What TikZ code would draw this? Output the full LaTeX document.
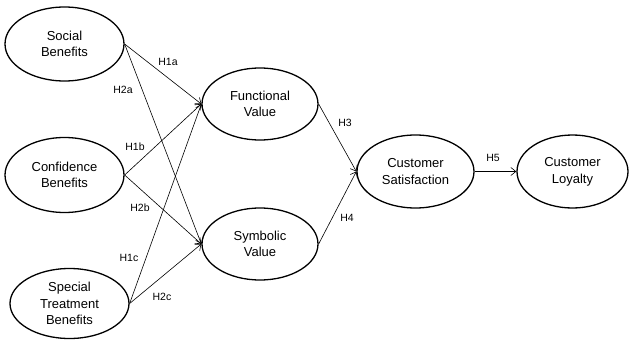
\documentclass[tikz,border=0pt]{standalone}
\usepackage{fontspec}
\setmainfont{Liberation Sans}
\usetikzlibrary{shapes.geometric,arrows.meta}
\begin{document}
\begin{tikzpicture}[x=1pt,y=-1pt,
  construct/.style={draw, ellipse, line width=1.3pt, inner sep=0pt, align=center,
     font=\fontsize{13}{16.7}\selectfont},
  link/.style={line width=0.6pt, -{Straight Barb[length=5pt,width=8pt,line width=0.6pt]}},
  hyp/.style={font=\fontsize{10.5}{12}\selectfont, inner sep=0pt}]
\useasboundingbox (0,0) rectangle (630,340);
\node[construct, minimum width=119pt, minimum height=74pt] (sb) at (64.5,44) {Social\\Benefits};
\node[construct, minimum width=119pt, minimum height=75pt] (cb) at (64.5,175) {Confidence\\Benefits};
\node[construct, minimum width=119pt, minimum height=70pt] (st) at (69.5,303.5) {Special\\Treatment\\Benefits};
\node[construct, minimum width=116pt, minimum height=72pt] (fv) at (260,104) {Functional\\Value};
\node[construct, minimum width=116pt, minimum height=72pt] (sv) at (260,244) {Symbolic\\Value};
\node[construct, minimum width=117pt, minimum height=73pt] (cs) at (415.5,171.5) {Customer\\Satisfaction};
\node[construct, minimum width=111pt, minimum height=73pt] (cl) at (572.5,171.5) {Customer\\Loyalty};
\draw[link] (sb.east) -- (fv.west);
\draw[link] (sb.east) -- (sv.west);
\draw[link] (cb.east) -- (fv.west);
\draw[link] (cb.east) -- (sv.west);
\draw[link] (st.east) -- (fv.west);
\draw[link] (st.east) -- (sv.west);
\draw[link] (fv.east) -- (cs.west);
\draw[link] (sv.east) -- (cs.west);
\draw[link] (cs.east) -- (cl.west);
\node[hyp] (h1a) at (168,62) {H1a};
\node[hyp] (h2a) at (123,90) {H2a};
\node[hyp] (h1b) at (135,147) {H1b};
\node[hyp] (h2b) at (140,208) {H2b};
\node[hyp] (h1c) at (129,258) {H1c};
\node[hyp] (h2c) at (162,297) {H2c};
\node[hyp] (h3) at (345,123) {H3};
\node[hyp] (h4) at (347,218) {H4};
\node[hyp] (h5) at (493,158) {H5};
\end{tikzpicture}
\end{document}
